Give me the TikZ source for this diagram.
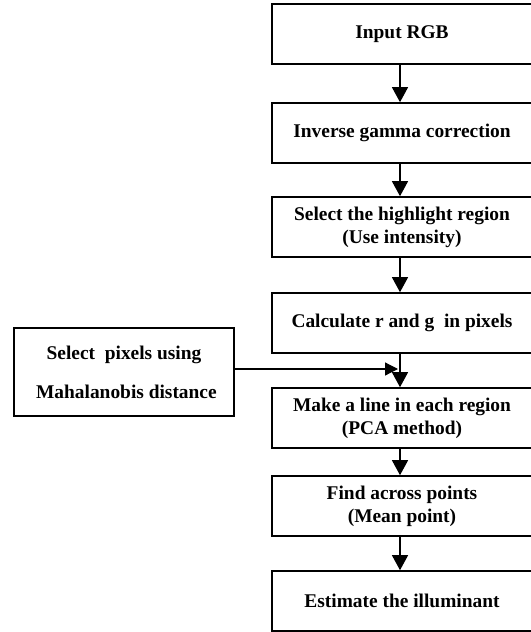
\documentclass[tikz,border=0pt]{standalone}
\usepackage{fontspec}
\setmainfont{Liberation Serif}
\usetikzlibrary{arrows.meta}
\begin{document}
\begin{tikzpicture}[x=1bp,y=-1bp,
  box/.style={draw,line width=1.6bp,inner sep=0pt,minimum width=260bp,minimum height=60bp,align=center,
    font=\fontsize{19.4bp}{23bp}\selectfont\bfseries},
  sidebox/.style={draw,line width=1.6bp,inner sep=0pt,minimum width=220bp,minimum height=88bp,align=center,
    font=\fontsize{19.4bp}{23bp}\selectfont\bfseries},
  arr/.style={line width=1.2bp,-{Triangle[length=15bp,width=16bp]}},
  harr/.style={line width=1.2bp,-{Triangle[length=13bp,width=13bp]}}]
\useasboundingbox (0,0) rectangle (531,632);
\node[box] (b1) at (402,34) {Input RGB};
\node[box] (b2) at (402,133) {Inverse gamma correction};
\node[box] (b3) at (402,227) {Select the highlight region\\(Use intensity)};
\node[box] (b4) at (402,323) {Calculate r and g\ \ in pixels};
\node[box] (b5) at (402,418) {Make a line in each region\\(PCA method)};
\node[box] (b6) at (402,506) {Find across points\\(Mean point)};
\node[box] (b7) at (402,601) {Estimate the illuminant};
\node[sidebox] (s) at (124,372) {Select\ \ pixels using\\[16bp]\ Mahalanobis distance};
\coordinate (j) at (398,369);
\draw[arr] (b1.south -| 400,0) -- (b2.north -| 400,0);
\draw[arr] (b2.south -| 400,0) -- (b3.north -| 400,0);
\draw[arr] (b3.south -| 400,0) -- (b4.north -| 400,0);
\draw[arr] (b4.south -| 400,0) -- (b5.north -| 400,0);
\draw[arr] (b5.south -| 400,0) -- (b6.north -| 400,0);
\draw[arr] (b6.south -| 400,0) -- (b7.north -| 400,0);
\draw[harr] (s.east |- j) -- (j);
\end{tikzpicture}
\end{document}
